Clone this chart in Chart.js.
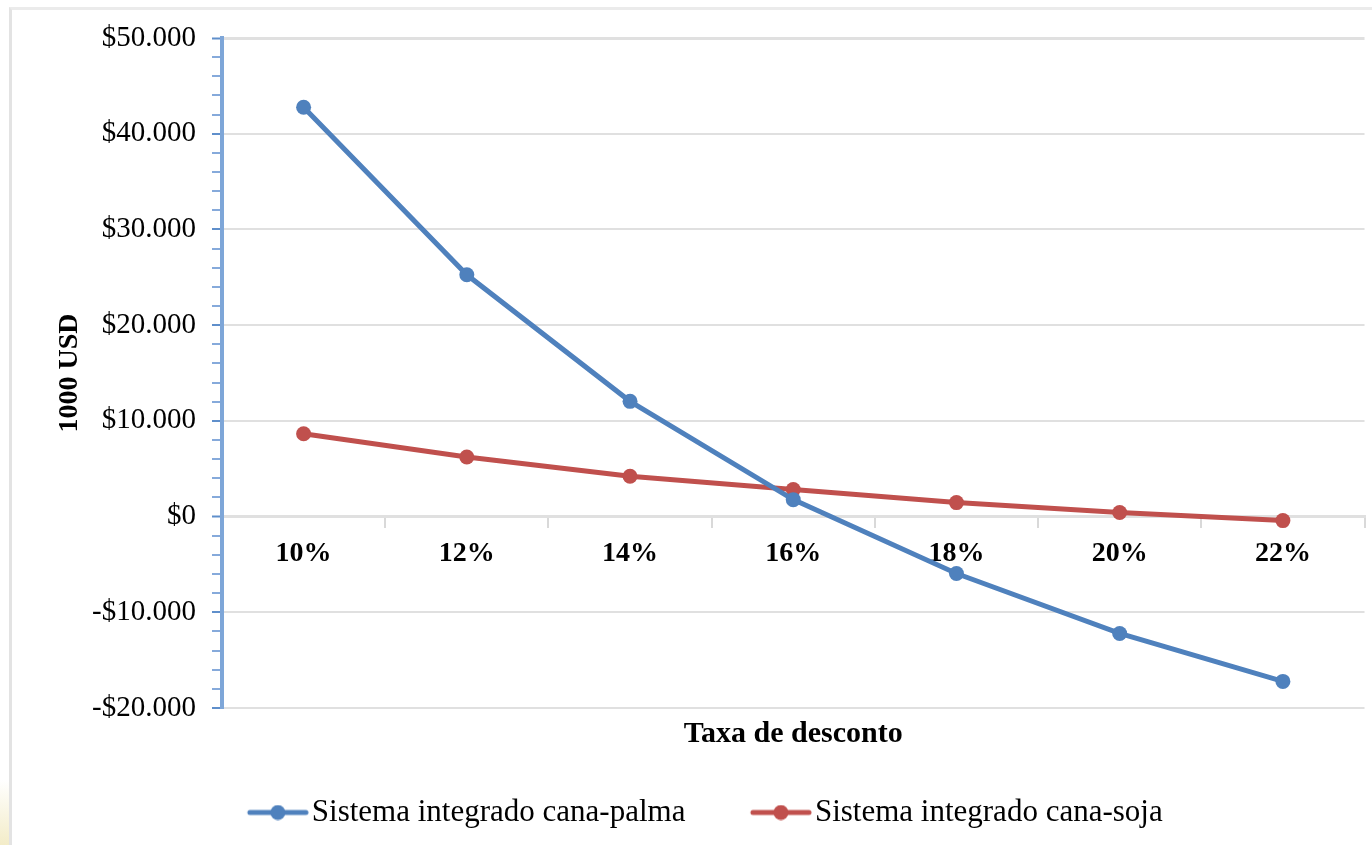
<!DOCTYPE html>
<html>
<head>
<meta charset="utf-8">
<title>Taxa de desconto</title>
<script src="https://cdn.jsdelivr.net/npm/chart.js@4/dist/chart.umd.min.js"></script>
<style>
    html, body { margin: 0; padding: 0; background: #fff; }
    #wrap { position: relative; width: 1372px; height: 845px; overflow: hidden; }
    #frame { position: absolute; left: 9px; top: 7px; right: 0; bottom: 0;
             border-top: 3px solid #ebebeb; border-left: 3px solid #e3e3e3; }
    #corner { position: absolute; left: 0; top: 780px; width: 9px; height: 65px;
              background: linear-gradient(to bottom, #ffffff, #f3ecc8); }
    canvas { position: absolute; left: 0; top: 0; }
</style>
</head>
<body>
<div id="wrap">
    <div id="frame"></div>
    <div id="corner"></div>
    <canvas id="npvChart" width="1372" height="845"></canvas>
</div>
<script>
    // ===== DATA =====
    const categories = ['10%', '12%', '14%', '16%', '18%', '20%', '22%'];
    const canaPalma = [42770, 25260, 12040, 1770, -5950, -12210, -17220];
    const canaSoja = [8660, 6230, 4210, 2820, 1460, 420, -420];
    const seriesNames = ['Sistema integrado cana-palma', 'Sistema integrado cana-soja'];
    const yTicks = [-20000, -10000, 0, 10000, 20000, 30000, 40000, 50000];

    const BLUE = '#4f81bd';
    const RED = '#c0504d';
    const SERIF = '"Liberation Serif", "DejaVu Serif", serif';

    // legend box is wider than the marker so the marker sits close to the text
    const LEGEND_BOX = 104;

    // line + dot marker for the legend (drawn in the right part of the image)
    function legendMarker(color) {
        const c = document.createElement('canvas');
        c.width = LEGEND_BOX + 25;
        c.height = 16;
        const g = c.getContext('2d');
        const x0 = c.width - 62;
        g.strokeStyle = color;
        g.lineWidth = 5;
        g.lineCap = 'round';
        g.beginPath();
        g.moveTo(x0 + 3, 8);
        g.lineTo(x0 + 59, 8);
        g.stroke();
        g.fillStyle = color;
        g.beginPath();
        g.arc(x0 + 31, 8, 7.5, 0, Math.PI * 2);
        g.fill();
        return c;
    }

    function fmtMoney(v) {
        const abs = Math.abs(v);
        const s = abs === 0 ? '0' : abs.toLocaleString('de-DE');
        return (v < 0 ? '-$' : '$') + s;
    }

    const isMajor = v => yTicks.includes(v);

    // the legend sits a little left of the canvas centre in the original
    const legendShift = {
        id: 'legendShift',
        afterLayout(chart) {
            if (!chart.legend) return;
            chart.legend.left -= 24;
            chart.legend.right -= 24;
        }
    };

    const ctx = document.getElementById('npvChart').getContext('2d');

    new Chart(ctx, {
        type: 'line',
        data: {
            labels: categories,
            datasets: [{
                label: seriesNames[0],
                data: canaPalma,
                borderColor: BLUE,
                backgroundColor: BLUE,
                borderWidth: 5,
                pointRadius: 7.5,
                pointBorderWidth: 0,
                pointStyle: 'circle',
                tension: 0,
                legendMarker: legendMarker(BLUE)
            }, {
                label: seriesNames[1],
                data: canaSoja,
                borderColor: RED,
                backgroundColor: RED,
                borderWidth: 5,
                pointRadius: 7.5,
                pointBorderWidth: 0,
                pointStyle: 'circle',
                tension: 0,
                legendMarker: legendMarker(RED)
            }]
        },
        options: {
            responsive: false,
            animation: false,
            layout: {
                padding: { left: 38, right: 7, top: 38, bottom: 7 }
            },
            plugins: {
                tooltip: { enabled: false },
                legend: {
                    position: 'bottom',
                    labels: {
                        color: '#000',
                        font: { family: SERIF, size: 31 },
                        usePointStyle: true,
                        pointStyleWidth: LEGEND_BOX,
                        padding: 10,
                        generateLabels: function(chart) {
                            return chart.data.datasets.map((ds, i) => ({
                                text: ds.label,
                                pointStyle: ds.legendMarker,
                                fillStyle: ds.backgroundColor,
                                strokeStyle: ds.borderColor,
                                lineWidth: 0,
                                hidden: false,
                                datasetIndex: i,
                                fontColor: '#000'
                            }));
                        }
                    }
                }
            },
            scales: {
                x: {
                    type: 'category',
                    offset: true,
                    position: { y: 0 },
                    grid: {
                        offset: true,
                        drawOnChartArea: false,
                        color: '#d9d9d9',
                        lineWidth: 2,
                        tickLength: 10
                    },
                    border: { color: '#e0e0e0', width: 3 },
                    ticks: {
                        color: '#000',
                        padding: 10,
                        maxRotation: 0,
                        font: { family: SERIF, size: 28, weight: 'bold' }
                    }
                },
                // invisible axis that only carries the x title
                xTitle: {
                    type: 'category',
                    position: 'bottom',
                    grid: { display: false },
                    border: { display: false },
                    ticks: { display: false },
                    title: {
                        display: true,
                        text: 'Taxa de desconto',
                        color: '#000',
                        font: { family: SERIF, size: 30, weight: 'bold' },
                        padding: { top: 0, bottom: 35 }
                    },
                    afterFit: function(scale) { scale.height = 79; }
                },
                y: {
                    min: -20000,
                    max: 50000,
                    afterFit: function(scale) { scale.width = 184; },
                    afterBuildTicks: function(scale) {
                        const t = [];
                        for (let v = -20000; v <= 50000; v += 2000) t.push({ value: v });
                        scale.ticks = t;
                    },
                    grid: {
                        color: c => (c.tick && isMajor(c.tick.value)) ? '#e0e0e0' : 'rgba(0,0,0,0)',
                        lineWidth: c => (c.tick && (c.tick.value === 50000 || c.tick.value === 0)) ? 3 : 2,
                        tickColor: c => (c.tick && isMajor(c.tick.value)) ? '#5f8fcb' : '#86aadb',
                        tickWidth: 2,
                        tickLength: 10
                    },
                    border: { color: '#7ea6d8', width: 4 },
                    ticks: {
                        color: '#000',
                        padding: 16,
                        autoSkip: false,
                        font: { family: SERIF, size: 29 },
                        callback: v => isMajor(v) ? fmtMoney(v) : ''
                    },
                    title: {
                        display: true,
                        text: '1000 USD',
                        color: '#000',
                        font: { family: SERIF, size: 28, weight: 'bold' },
                        padding: { top: 15, bottom: 0 }
                    }
                }
            }
        },
        plugins: [legendShift]
    });
</script>
</body>
</html>
